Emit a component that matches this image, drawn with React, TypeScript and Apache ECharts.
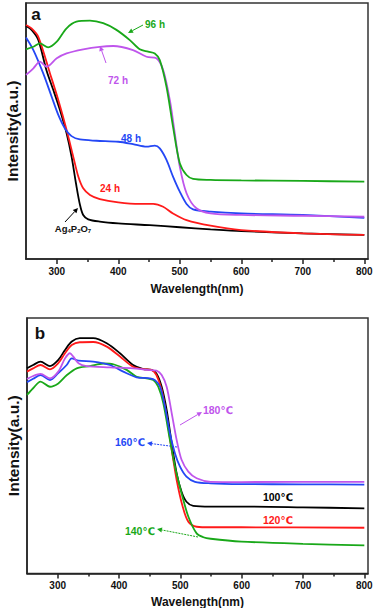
import React, { useEffect, useRef } from "react";
import * as echarts from "echarts";

const FONT = "'Liberation Sans', Arial, 'DejaVu Sans', sans-serif";
const X_MIN = 250;
const X_MAX = 806;
const MAJOR_TICKS = [300, 400, 500, 600, 700, 800];
const MINOR_TICKS = [350, 450, 550, 650, 750];
const X_NAME = "Wavelength(nm)";
const Y_NAME = "Intensity(a.u.)";

// Panel a: [wavelength nm, intensity a.u.]
const aAg4P2O7 = [[250, 91.0], [259, 89.5], [270, 85.6], [283.5, 73.5], [294.4, 66.0], [305.2, 58.2], [316, 49.1], [324.1, 40.0], [331.2, 29.6], [337.7, 21.2], [343, 17.2], [351.2, 15.5], [370, 14.6], [400, 13.9], [451, 13.2], [500, 12.4], [550, 11.6], [600, 10.9], [700, 10.0], [800, 9.4]];
const a24h = [[250, 91.4], [259, 90.1], [270, 86.8], [289, 72.5], [302.5, 62.1], [316, 50.4], [326.8, 40.0], [335, 32.2], [343, 27.6], [354, 25.0], [370, 23.4], [400, 22.1], [435, 21.5], [456.7, 21.5], [473, 20.4], [489, 17.8], [511, 15.2], [550, 13.0], [600, 11.3], [700, 10.0], [800, 9.4]];
const a48h = [[250, 86.5], [262, 81.6], [278, 72.5], [291.7, 63.4], [302.5, 56.3], [313.3, 51.0], [324, 48.0], [337.7, 46.7], [364.7, 46.2], [400, 45.8], [424, 44.9], [446, 43.9], [459.4, 44.3], [467.5, 43.2], [478.4, 38.7], [489, 32.2], [500, 26.3], [511, 21.5], [521.6, 19.4], [550, 18.5], [600, 17.8], [700, 17.2], [800, 16.1]];
const a72h = [[250, 71.9], [262, 74.5], [272.7, 77.1], [283.5, 75.1], [300, 78.4], [316, 80.3], [343, 81.9], [370, 82.9], [391.8, 83.2], [424, 81.6], [446, 79.0], [462, 78.4], [473, 73.8], [483.8, 62.1], [491.9, 49.1], [500, 36.1], [511, 25.7], [527, 19.8], [550, 17.8], [600, 17.2], [700, 16.9], [800, 16.5]];
const a96h = [[250, 81.9], [262, 82.9], [272.7, 84.2], [286, 82.7], [300, 84.9], [316, 90.1], [332, 92.7], [354, 93.1], [375.5, 92.1], [397, 89.5], [418.8, 85.5], [435, 81.9], [448.6, 81.0], [459.4, 80.3], [467.5, 77.7], [478.4, 67.3], [489, 51.7], [500, 37.4], [511, 32.8], [521.6, 31.3], [550, 30.9], [600, 30.7], [700, 30.5], [800, 30.2]];

// Panel b
const b100 = [[250, 80.3], [260, 81.6], [272, 82.9], [287.5, 81.2], [301, 83.6], [312, 87.5], [323, 90.8], [336, 92.1], [358, 92.1], [380, 90.1], [401.6, 86.2], [423, 81.6], [439.7, 80.0], [453, 79.7], [461, 78.3], [469.6, 73.1], [477.7, 64.0], [486, 50.9], [494, 39.2], [502, 32.0], [510, 28.1], [521, 26.5], [549.5, 26.2], [599.5, 26.2], [700, 25.9], [800, 25.5]];
const b120 = [[250, 79.0], [260, 80.3], [272, 81.6], [287.5, 79.9], [301, 82.3], [312, 86.2], [323, 89.4], [336, 90.5], [358, 90.6], [380, 88.8], [401.6, 84.9], [423, 80.9], [439.7, 80.0], [453, 79.7], [461, 77.7], [469.6, 71.8], [477.7, 61.4], [486, 48.3], [494, 36.6], [503.8, 26.2], [513, 20.3], [526.6, 18.3], [549.5, 18.1], [599.5, 18.1], [800, 17.9]];
const b140 = [[250, 69.9], [260, 72.5], [272, 75.1], [287.5, 73.1], [301, 74.4], [314.7, 77.6], [331, 80.3], [352.7, 81.2], [374.5, 82.2], [390.8, 81.9], [412.5, 79.7], [428.8, 77.0], [445, 76.4], [456, 75.7], [464, 73.1], [472.3, 66.6], [483, 52.3], [491.3, 41.8], [502, 31.4], [513, 22.3], [526.6, 15.7], [537.5, 14.2], [549.5, 13.6], [599.5, 12.5], [700, 11.6], [800, 11.0]];
const b160 = [[250, 74.9], [260, 76.2], [272, 77.7], [287.5, 75.7], [301, 78.4], [314.7, 81.6], [323, 84.2], [334, 83.3], [358, 82.9], [385, 81.6], [407, 79.0], [428.8, 76.8], [450.5, 76.4], [458.7, 75.7], [467, 73.1], [475, 65.3], [483, 54.9], [491.3, 47.0], [499.5, 41.8], [510, 37.9], [523.9, 35.9], [549.5, 35.3], [599.5, 35.0], [700, 34.9], [800, 34.8]];
const b180 = [[250, 76.1], [260, 77.3], [272, 78.1], [287.5, 76.4], [301, 79.0], [312, 84.2], [320, 86.2], [325.5, 84.9], [334, 82.3], [347, 81.2], [385, 80.7], [423, 80.3], [445, 79.7], [461, 79.4], [469.6, 77.7], [477.7, 73.1], [486, 62.7], [494, 52.3], [502, 44.5], [513, 39.9], [526.6, 37.3], [549.5, 35.9], [599.5, 35.8], [800, 35.9]];

const BLACK = "#000000";
const RED = "#ff1a1a";
const BLUE = "#2447f5";
const GREEN = "#19a819";
const PURPLE = "#bf55ec";

function arrow(x1: number, y1: number, x2: number, y2: number, color: string, dashed = false): any[] {
  const ang = Math.atan2(y2 - y1, x2 - x1);
  const L = 5, W = 2.5;
  const bx = x2 - L * Math.cos(ang), by = y2 - L * Math.sin(ang);
  const px = -Math.sin(ang) * W, py = Math.cos(ang) * W;
  return [
    { type: "line", shape: { x1, y1, x2: bx, y2: by }, style: { stroke: color, lineWidth: 1, lineDash: dashed ? [2, 1] : null } },
    { type: "polygon", shape: { points: [[x2, y2], [bx + px, by + py], [bx - px, by - py]] }, style: { fill: color } },
  ];
}

function label(text: string, x: number, y: number, color: string, size = 10): any {
  return {
    type: "text", x, y,
    style: { text, fill: color, font: `bold ${size}px ${FONT}`, textAlign: "center", textVerticalAlign: "middle" },
  };
}

export default function App() {
  const ref = useRef<HTMLDivElement>(null);
  useEffect(() => {
    if (!ref.current) return;
    const chart = echarts.init(ref.current, null, { renderer: "svg" });
    const axisColor = "#222";
    const grids = [
      { left: 26, top: 3, width: 342, height: 256 },
      { left: 27, top: 318, width: 341, height: 255.5 },
    ];
    const nameGaps = [24, 22];
    const xAxes: any[] = [];
    grids.forEach((g, i) => {
      xAxes.push({
        gridIndex: i, type: "value", min: X_MIN, max: X_MAX, position: "bottom",
        name: X_NAME, nameLocation: "middle", nameGap: nameGaps[i],
        nameTextStyle: { fontFamily: FONT, fontWeight: "bold", fontSize: 12, color: "#111" },
        axisLine: { show: true, lineStyle: { color: axisColor, width: 1.5 } },
        axisTick: { show: true, customValues: MAJOR_TICKS, length: 5, lineStyle: { color: axisColor, width: 1.5 } },
        axisLabel: { show: true, customValues: MAJOR_TICKS, margin: 7, fontFamily: FONT, fontWeight: "bold", fontSize: 10, color: "#111" },
        splitLine: { show: false },
      });
      xAxes.push({
        gridIndex: i, type: "value", min: X_MIN, max: X_MAX, position: "bottom",
        axisLine: { show: false },
        axisTick: { show: true, customValues: MINOR_TICKS, length: 3, lineStyle: { color: axisColor, width: 1.5 } },
        axisLabel: { show: false },
        splitLine: { show: false },
      });
    });
    const yAxes = grids.map((g, i) => ({
      gridIndex: i, type: "value", min: 0, max: 100,
      name: Y_NAME, nameLocation: "middle", nameGap: 6, nameRotate: 90,
      nameTextStyle: { fontFamily: FONT, fontWeight: "bold", fontSize: 15.5, color: "#111" },
      axisLine: { show: true, lineStyle: { color: axisColor, width: 1.5 } },
      axisTick: { show: false }, axisLabel: { show: false }, splitLine: { show: false },
    }));
    const mk = (name: string, data: number[][], color: string, panel: number) => ({
      name, type: "line", data, xAxisIndex: panel * 2, yAxisIndex: panel,
      showSymbol: false, smooth: 0.3, lineStyle: { color, width: 1.8 }, itemStyle: { color },
    });
    const series = [
      mk("Ag4P2O7", aAg4P2O7, BLACK, 0),
      mk("24 h", a24h, RED, 0),
      mk("48 h", a48h, BLUE, 0),
      mk("72 h", a72h, PURPLE, 0),
      mk("96 h", a96h, GREEN, 0),
      mk("100℃", b100, BLACK, 1),
      mk("120℃", b120, RED, 1),
      mk("140℃", b140, GREEN, 1),
      mk("160℃", b160, BLUE, 1),
      mk("180℃", b180, PURPLE, 1),
    ];
    const graphic: any[] = [
      { type: "text", x: 36, y: 14, style: { text: "a", fill: "#111", font: `bold 17px ${FONT}`, textAlign: "center", textVerticalAlign: "middle" } },
      { type: "text", x: 40, y: 333, style: { text: "b", fill: "#111", font: `bold 17px ${FONT}`, textAlign: "center", textVerticalAlign: "middle" } },
      label("96 h", 155, 24, GREEN),
      ...arrow(143, 25, 128, 33, GREEN),
      label("72 h", 118, 80, PURPLE),
      ...arrow(106, 63, 100, 46, PURPLE),
      label("48 h", 131, 138, BLUE),
      label("24 h", 110, 188, RED),
      {
        type: "text", x: 73, y: 228,
        style: {
          text: "{m|Ag}{s|4}{m|P}{s|2}{m|O}{s|7}", textAlign: "center", textVerticalAlign: "middle",
          rich: {
            m: { fontFamily: FONT, fontWeight: "bold", fontSize: 9.5, fill: "#111", color: "#111" },
            s: { fontFamily: FONT, fontWeight: "bold", fontSize: 6, fill: "#111", color: "#111", padding: [5, 0, 0, 0] },
          },
        },
      },
      ...arrow(65, 222, 78, 208, BLACK),
      label("180℃", 218, 410, PURPLE, 10.5),
      ...arrow(180, 425, 202, 412, PURPLE),
      label("160℃", 130, 442, BLUE, 10.5),
      ...arrow(177, 447, 147, 443, BLUE, true),
      label("100℃", 278, 497, BLACK, 10.5),
      label("120℃", 278, 520, RED, 10.5),
      label("140℃", 140, 531, GREEN, 10.5),
      ...arrow(198, 537, 157, 529, GREEN, true),
    ];
    chart.setOption({
      animation: false,
      backgroundColor: "#ffffff",
      grid: grids.map((g) => ({ ...g, show: true, borderColor: "#333", borderWidth: 1.5, backgroundColor: "transparent", containLabel: false, outerBoundsMode: "none" })),
      xAxis: xAxes,
      yAxis: yAxes,
      series,
      graphic,
    });
    return () => chart.dispose();
  }, []);
  return <div ref={ref} style={{ position: "fixed", left: 0, top: 0, width: 373, height: 608, background: "#fff" }} />;
}
